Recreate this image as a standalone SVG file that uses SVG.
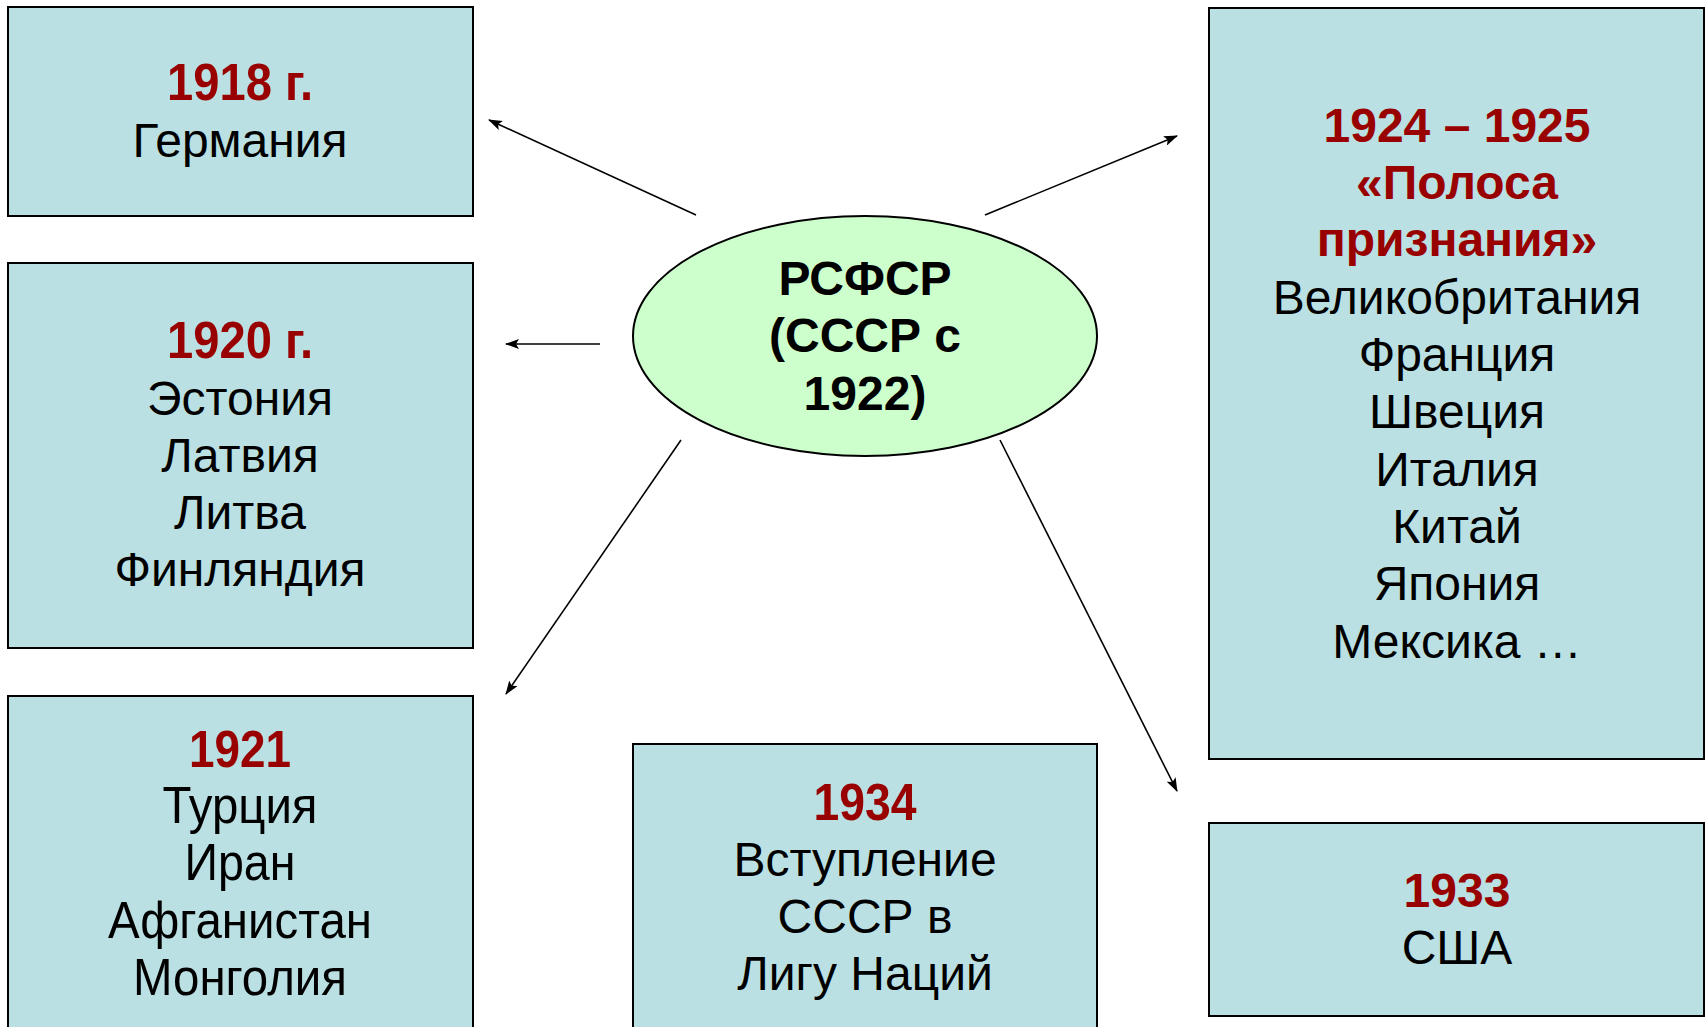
<svg xmlns="http://www.w3.org/2000/svg" width="1705" height="1027" viewBox="0 0 1705 1027">
<style>
.box{fill:#BAE0E3;stroke:#000;stroke-width:2}
.ell{fill:#CCFFCC;stroke:#000;stroke-width:2}
text{font-family:"Liberation Sans",Arial,sans-serif;font-size:48px;text-anchor:middle;fill:#000}
.y{fill:#990000;font-weight:bold}
.b{font-weight:bold}
.c{font-size:52px}
.con{stroke:#000;stroke-width:1.6;fill:none;marker-end:url(#ah)}
</style>
<defs>
<marker id="ah" markerWidth="14" markerHeight="10" refX="13" refY="5" orient="auto" markerUnits="userSpaceOnUse">
<path d="M0,0 L14,5 L0,10 L3,5 Z" fill="#000"/>
</marker>
</defs>
<rect width="1705" height="1027" fill="#fff"/>
<g id="connectors">
<line class="con" x1="696" y1="215" x2="489" y2="120"/>
<line class="con" x1="600" y1="344" x2="506" y2="344"/>
<line class="con" x1="681" y1="440" x2="506" y2="694"/>
<line class="con" x1="985" y1="215" x2="1177" y2="136"/>
<line class="con" x1="1000" y1="440" x2="1177" y2="791"/>
</g>
<g id="n1918">
<rect class="box" x="8" y="7" width="465" height="209"/>
<text class="y c" x="240" y="100" textLength="146" lengthAdjust="spacingAndGlyphs">1918 г.</text>
<text x="240" y="157">Германия</text>
</g>
<g id="n1920">
<rect class="box" x="8" y="263" width="465" height="385"/>
<text class="y c" x="240" y="358" textLength="146" lengthAdjust="spacingAndGlyphs">1920 г.</text>
<text x="240" y="415">Эстония</text>
<text x="240" y="472">Латвия</text>
<text x="240" y="529">Литва</text>
<text x="240" y="586">Финляндия</text>
</g>
<g id="n1921">
<rect class="box" x="8" y="696" width="465" height="340"/>
<text class="y c" x="240" y="767" textLength="102" lengthAdjust="spacingAndGlyphs">1921</text>
<text class="c" x="240" y="823" textLength="155" lengthAdjust="spacingAndGlyphs">Турция</text>
<text class="c" x="240" y="880" textLength="111" lengthAdjust="spacingAndGlyphs">Иран</text>
<text class="c" x="240" y="938" textLength="264" lengthAdjust="spacingAndGlyphs">Афганистан</text>
<text class="c" x="240" y="995" textLength="214" lengthAdjust="spacingAndGlyphs">Монголия</text>
</g>
<g id="nRSFSR">
<ellipse class="ell" cx="865" cy="336" rx="232" ry="120"/>
<text class="b" x="865" y="295">РСФСР</text>
<text class="b" x="865" y="352">(СССР с</text>
<text class="b" x="865" y="410">1922)</text>
</g>
<g id="n1934">
<rect class="box" x="633" y="744" width="464" height="292"/>
<text class="y c" x="865" y="820" textLength="103" lengthAdjust="spacingAndGlyphs">1934</text>
<text x="865" y="876">Вступление</text>
<text x="865" y="933">СССР в</text>
<text x="865" y="990">Лигу Наций</text>
</g>
<g id="n1924">
<rect class="box" x="1209" y="8" width="495" height="751"/>
<text class="y" x="1457" y="142">1924 – 1925</text>
<text class="y" x="1457" y="199">«Полоса</text>
<text class="y" x="1457" y="256">признания»</text>
<text x="1457" y="314">Великобритания</text>
<text x="1457" y="371">Франция</text>
<text x="1457" y="428">Швеция</text>
<text x="1457" y="486">Италия</text>
<text x="1457" y="543">Китай</text>
<text x="1457" y="600">Япония</text>
<text x="1457" y="658">Мексика …</text>
</g>
<g id="n1933">
<rect class="box" x="1209" y="823" width="495" height="193"/>
<text class="y" x="1457" y="907">1933</text>
<text x="1457" y="964">США</text>
</g>
</svg>
